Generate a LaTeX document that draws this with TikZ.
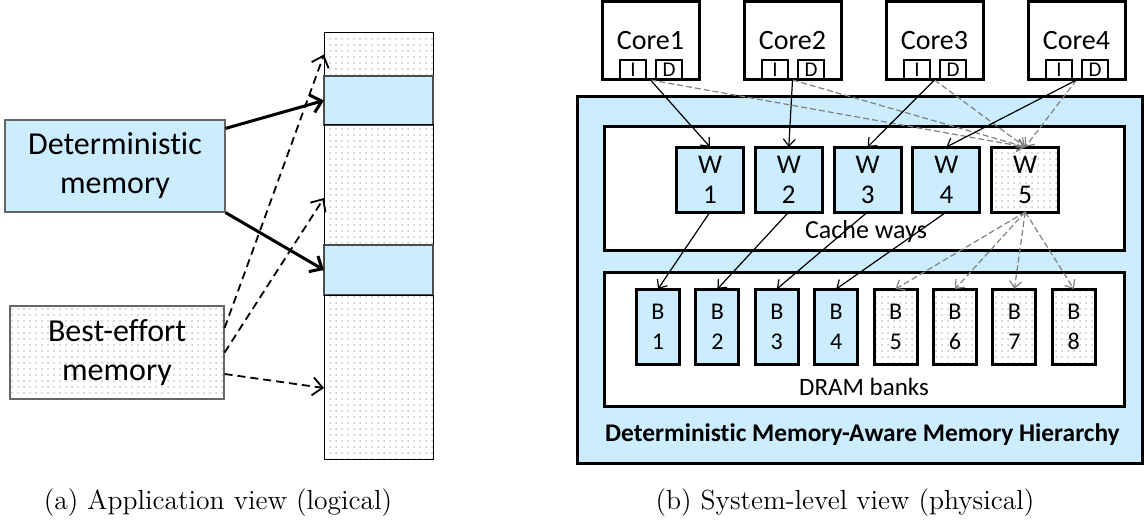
\documentclass[tikz,border=0pt]{standalone}
\usepackage{fontspec}
\newfontfamily\calibri[Ligatures=NoCommon]{Carlito}
\usetikzlibrary{positioning, patterns, arrows.meta}
\definecolor{detblue}{HTML}{CCECFF}

\begin{document}
\begin{tikzpicture}[x=0.5pt, y=-0.5pt]

\tikzstyle{arrow} = [->,>={Straight Barb[length=3.5pt,width=6pt]}]
\tikzstyle{bigarrow} = [->,>={Straight Barb[length=5pt,width=9pt]}]
\tikzstyle{bearrow} = [arrow, gray, line width=0.6pt, dash pattern=on 3pt off 1.5pt]
\tikzset{det/.style = {fill=detblue}, }
\tikzset{besteff/.style = {pattern=dots, pattern color=gray!45}, }
\tikzset{app/.style = {rectangle, draw=gray!80!black, line width=0.6pt, align=center, inner sep=0pt, font=\calibri\fontsize{16}{19.5}\selectfont}, }
\tikzset{seg/.style = {rectangle, draw, line width=0.5pt, minimum width=54.5pt, inner sep=0pt, outer sep=0pt}, }
\tikzset{band/.style = {draw=gray!60!black, line width=1pt}, }
\tikzset{core/.style = {rectangle, draw, line width=1.5pt, fill=white, minimum width=48.5pt, minimum height=39pt, inner sep=0pt, outer sep=0pt, font=\calibri\fontsize{14}{16}\selectfont}, }
\tikzset{port/.style = {rectangle, draw, line width=1.2pt, fill=white, minimum width=13pt, minimum height=9.5pt, inner sep=0pt, font=\calibri\fontsize{10.5}{10}\selectfont}, }
\tikzset{way/.style = {rectangle, draw, line width=1.5pt, minimum width=33.5pt, minimum height=32.5pt, inner sep=0pt, outer sep=0pt, align=center, font=\calibri\fontsize{13.5}{15}\selectfont}, }
\tikzset{bank/.style = {rectangle, draw, line width=1.5pt, minimum width=21.5pt, minimum height=37.5pt, inner sep=0pt, outer sep=0pt, align=center, font=\calibri\fontsize{12}{15}\selectfont}, }
\tikzset{level/.style = {rectangle, draw, line width=1.5pt, inner sep=0pt}, }

\useasboundingbox (0,0) rectangle (1145,519);

% application view
\node[app, det, minimum width=110pt, minimum height=46pt] (DM) at (115,166) {Deterministic\\memory};
\node[app, besteff, minimum width=107pt, minimum height=46.5pt] (BE) at (117,352.5) {Best-effort\\memory};

\node[seg, besteff, minimum height=21.5pt] (Seg1) at (378.5,54.5) {};
\node[seg, det, band, minimum height=24.5pt, below=0pt of Seg1] (Seg2) {};
\node[seg, besteff, minimum height=60pt, below=0pt of Seg2] (Seg3) {};
\node[seg, det, band, minimum height=25pt, below=0pt of Seg3] (Seg4) {};
\node[seg, besteff, minimum height=82pt, below=0pt of Seg4] (Seg5) {};

\draw[bigarrow, line width=1.5pt] ([yshift=-4.5pt]DM.north east) -- (Seg2.west);
\draw[bigarrow, line width=1.5pt] (DM.south east) -- (Seg4.west);
\draw[bigarrow, line width=0.9pt, dash pattern=on 4pt off 2.5pt] ([yshift=12.25pt]BE.east) -- (Seg1.west);
\draw[bigarrow, line width=0.9pt, dash pattern=on 4pt off 2.5pt] (BE.east) -- ([yshift=-6.5pt]Seg3.west);
\draw[bigarrow, line width=0.9pt, dash pattern=on 4pt off 2.5pt] ([yshift=-10.75pt]BE.east) -- ([yshift=-5.5pt]Seg5.west);

\node[font=\fontsize{13.8}{15}\selectfont] (CapA) at (218,503) {(a) Application view (logical)};

% system-level view
\node[level, det, minimum width=282.5pt, minimum height=183pt] (Hier) at (859.5,280) {};
\node[font=\calibri\bfseries\fontsize{12.7}{14}\selectfont] (HierLabel) at (862.5,435) {Deterministic Memory-Aware Memory Hierarchy};
\node[level, fill=white, minimum width=260pt, minimum height=61.5pt] (Cache) at (864,188.5) {};
\node[font=\calibri\fontsize{13}{15}\selectfont] (CacheLabel) at (866,232) {Cache ways};
\node[level, fill=white, minimum width=260pt, minimum height=67pt] (DRAM) at (864,339) {};
\node[font=\calibri\fontsize{12.5}{15}\selectfont] (DRAMLabel) at (864,387) {DRAM banks};

\node[core] (C1) at (650.5,41) {Core1};
\node[core, right=22.5pt of C1] (C2) {Core2};
\node[core, right=22.5pt of C2] (C3) {Core3};
\node[core, right=22.5pt of C3] (C4) {Core4};
\node[port, anchor=south] (I1) at ([xshift=-8.75pt]C1.south) {I};
\node[port, anchor=south] (D1) at ([xshift=9.25pt]C1.south) {D};
\node[port, anchor=south] (I2) at ([xshift=-8.75pt]C2.south) {I};
\node[port, anchor=south] (D2) at ([xshift=9.25pt]C2.south) {D};
\node[port, anchor=south] (I3) at ([xshift=-8.75pt]C3.south) {I};
\node[port, anchor=south] (D3) at ([xshift=9.25pt]C3.south) {D};
\node[port, anchor=south] (I4) at ([xshift=-8.75pt]C4.south) {I};
\node[port, anchor=south] (D4) at ([xshift=9.25pt]C4.south) {D};

\node[way, det] (W1) at (710,179.5) {W\\1};
\node[way, det, right=5.9pt of W1] (W2) {W\\2};
\node[way, det, right=5.9pt of W2] (W3) {W\\3};
\node[way, det, right=5.9pt of W3] (W4) {W\\4};
\node[way, besteff, right=5.9pt of W4] (W5) {W\\5};

\node[bank, det] (B1) at (658,326.5) {B\\1};
\node[bank, det, right=8.2pt of B1] (B2) {B\\2};
\node[bank, det, right=8.2pt of B2] (B3) {B\\3};
\node[bank, det, right=8.2pt of B3] (B4) {B\\4};
\node[bank, besteff, right=8.2pt of B4] (B5) {B\\5};
\node[bank, besteff, right=8.2pt of B5] (B6) {B\\6};
\node[bank, besteff, right=8.2pt of B6] (B7) {B\\7};
\node[bank, besteff, right=8.2pt of B7] (B8) {B\\8};

\path[bearrow]
(C1.south) edge (W5.north)
(C2.south) edge (W5.north)
(C3.south) edge (W5.north)
(C4.south) edge (W5.north)
(W5.south) edge (B5.north)
(W5.south) edge (B6.north)
(W5.south) edge (B7.north)
(W5.south) edge (B8.north);

\path[arrow, line width=0.6pt]
(C1.south) edge (W1.north)
(C2.south) edge (W2.north)
(C3.south) edge (W3.north)
(C4.south) edge (W4.north)
(W1.south) edge (B1.north)
(W2.south) edge (B2.north)
(W3.south) edge (B3.north)
(W4.south) edge (B4.north);

\node[font=\fontsize{13.8}{15}\selectfont] (CapB) at (845,503) {(b) System-level view (physical)};
\end{tikzpicture}
\end{document}
